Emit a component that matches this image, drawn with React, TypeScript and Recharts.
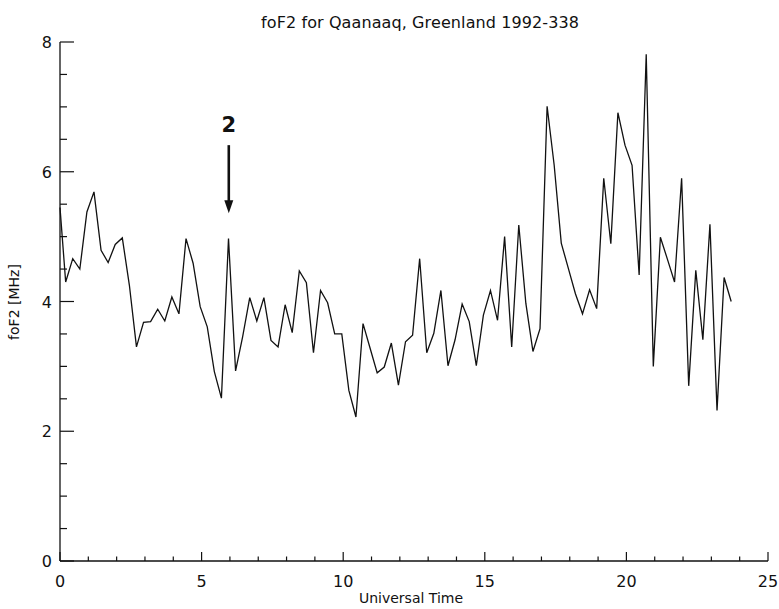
import React from 'react';
import { LineChart, Line, XAxis, YAxis, ReferenceLine, ReferenceDot } from 'recharts';

// Universal Time (hours) of each sounding
const universalTime = [
  0, 0.2, 0.45, 0.7, 0.95, 1.2, 1.45, 1.7, 1.95, 2.2, 2.45, 2.7, 2.95, 3.2, 3.45, 3.7,
  3.95, 4.2, 4.45, 4.7, 4.95, 5.2, 5.45, 5.7, 5.95, 6.2, 6.45, 6.7, 6.95, 7.2, 7.45, 7.7,
  7.95, 8.2, 8.45, 8.7, 8.95, 9.2, 9.45, 9.7, 9.95, 10.2, 10.45, 10.7, 10.95, 11.2, 11.45, 11.7,
  11.95, 12.2, 12.45, 12.7, 12.95, 13.2, 13.45, 13.7, 13.95, 14.2, 14.45, 14.7, 14.95, 15.2, 15.45, 15.7,
  15.95, 16.2, 16.45, 16.7, 16.95, 17.2, 17.45, 17.7, 17.95, 18.2, 18.45, 18.7, 18.95, 19.2, 19.45, 19.7,
  19.95, 20.2, 20.45, 20.7, 20.95, 21.2, 21.45, 21.7, 21.95, 22.2, 22.45, 22.7, 22.95, 23.2, 23.45, 23.7,
];

// foF2 in MHz
const foF2 = [
  5.45, 4.30, 4.66, 4.50, 5.38, 5.69, 4.79, 4.60, 4.88, 4.98, 4.25, 3.30, 3.68, 3.69, 3.88, 3.70,
  4.07, 3.81, 4.97, 4.59, 3.92, 3.61, 2.92, 2.51, 4.97, 2.93, 3.46, 4.06, 3.70, 4.06, 3.40, 3.30,
  3.95, 3.52, 4.47, 4.29, 3.21, 4.17, 3.98, 3.50, 3.50, 2.63, 2.22, 3.66, 3.28, 2.90, 2.99, 3.36,
  2.71, 3.38, 3.48, 4.66, 3.21, 3.51, 4.17, 3.01, 3.41, 3.96, 3.69, 3.01, 3.79, 4.17, 3.71, 5.00,
  3.30, 5.18, 3.97, 3.23, 3.58, 7.01, 6.10, 4.90, 4.51, 4.12, 3.81, 4.18, 3.89, 5.90, 4.89, 6.91,
  6.41, 6.10, 4.41, 7.81, 3.00, 4.99, 4.65, 4.30, 5.90, 2.70, 4.48, 3.41, 5.19, 2.32, 4.37, 4.00,
];

const hourTicks = [0, 1, 2, 3, 4, 5, 6, 7, 8, 9, 10, 11, 12, 13, 14, 15, 16, 17, 18, 19, 20, 21, 22, 23, 24, 25];
const hourLabels = [0, 5, 10, 15, 20, 25];
const mhzTicks = [0, 0.5, 1, 1.5, 2, 2.5, 3, 3.5, 4, 4.5, 5, 5.5, 6, 6.5, 7, 7.5, 8];
const mhzLabels = [0, 2, 4, 6, 8];

// event marker "2"
const markTime = 5.96;
const markLabel = '2';
const arrowFrom = 6.41;
const arrowTo = 5.36;
const markLabelAt = 6.61;

const data = universalTime.map((t, i) => ({ ut: t, fo: foF2[i] }));

const FONT = 'DejaVu Sans, sans-serif';
const INK = '#111';

const BottomTick = (props: any) => {
  const { x, y, payload } = props;
  const major = hourLabels.includes(payload.value);
  return (
    <g>
      <line x1={x} x2={x} y1={y} y2={y - (major ? 9 : 4.5)} stroke={INK} strokeWidth={1.2} />
      {major && (
        <text x={x} y={y + 26} textAnchor="middle" fontSize={16} fontFamily={FONT} fill={INK}>
          {payload.value}
        </text>
      )}
    </g>
  );
};

const TopTick = (props: any) => {
  const { x, y, payload } = props;
  const major = hourLabels.includes(payload.value);
  return <line x1={x} x2={x} y1={y} y2={y + (major ? 11 : 5)} stroke={INK} strokeWidth={1.2} />;
};

const LeftTick = (props: any) => {
  const { x, y, payload } = props;
  const major = mhzLabels.includes(payload.value);
  return (
    <g>
      <line x1={x} x2={x + (major ? 14 : 7)} y1={y} y2={y} stroke={INK} strokeWidth={1.2} />
      {major && (
        <text x={x - 8} y={y + 6} textAnchor="end" fontSize={16} fontFamily={FONT} fill={INK}>
          {payload.value}
        </text>
      )}
    </g>
  );
};

const RightTick = (props: any) => {
  const { x, y, payload } = props;
  const major = mhzLabels.includes(payload.value);
  return <line x1={x - (major ? 14 : 7)} x2={x} y1={y} y2={y} stroke={INK} strokeWidth={1.2} />;
};

const Arrow = (props: any) => {
  const { x1, y1, x2, y2 } = props;
  return (
    <g>
      <line x1={x1} x2={x2} y1={y1} y2={y2 - 10} stroke={INK} strokeWidth={2.6} />
      <polygon points={`${x2 - 4.5},${y2 - 13} ${x2 + 4.5},${y2 - 13} ${x2},${y2}`} fill={INK} />
    </g>
  );
};

const MarkText = (props: any) => (
  <text x={props.cx} y={props.cy} textAnchor="middle" fontSize={21} fontWeight="bold" fontFamily={FONT} fill={INK}>
    {markLabel}
  </text>
);

const axisLine = { stroke: INK, strokeWidth: 1.3 };

export default function App() {
  return (
    <div style={{ position: 'absolute', left: 0, top: 0, width: 779, height: 609, background: '#fff' }}>
      <LineChart width={779} height={609} data={data} margin={{ top: 42, right: 11, bottom: 18, left: 20 }}>
        <XAxis
          dataKey="ut"
          type="number"
          domain={[0, 25]}
          ticks={hourTicks}
          interval={0}
          tickSize={0}
          tickMargin={0}
          height={30}
          axisLine={axisLine}
          tickLine={false}
          tick={<BottomTick />}
        />
        <XAxis
          xAxisId="top"
          orientation="top"
          type="number"
          domain={[0, 25]}
          ticks={hourTicks}
          interval={0}
          tickSize={0}
          tickMargin={0}
          height={0}
          axisLine={axisLine}
          tickLine={false}
          tick={<TopTick />}
        />
        <YAxis
          type="number"
          domain={[0, 8]}
          ticks={mhzTicks}
          interval={0}
          tickSize={0}
          tickMargin={0}
          width={40}
          axisLine={axisLine}
          tickLine={false}
          tick={<LeftTick />}
        />
        <YAxis
          yAxisId="right"
          orientation="right"
          type="number"
          domain={[0, 8]}
          ticks={mhzTicks}
          interval={0}
          tickSize={0}
          tickMargin={0}
          width={0}
          axisLine={axisLine}
          tickLine={false}
          tick={<RightTick />}
        />
        <Line
          type="linear"
          dataKey="fo"
          stroke={INK}
          strokeWidth={1.3}
          dot={false}
          isAnimationActive={false}
        />
        <ReferenceLine
          segment={[{ x: markTime, y: arrowFrom }, { x: markTime, y: arrowTo }]}
          shape={<Arrow />}
        />
        <ReferenceDot x={markTime} y={markLabelAt} r={1} shape={<MarkText />} />
      </LineChart>
      <svg width={779} height={609} style={{ position: 'absolute', left: 0, top: 0, pointerEvents: 'none' }}>
        <text x={420} y={28} textAnchor="middle" fontSize={16} fontFamily={FONT} fill={INK} textLength={318} lengthAdjust="spacing">
          foF2 for Qaanaaq, Greenland  1992-338
        </text>
        <text x={0} y={0} transform="translate(19 302) rotate(-90)" textAnchor="middle" fontSize={14} fontFamily={FONT} fill={INK}>
          foF2 [MHz]
        </text>
        <text x={411} y={603} textAnchor="middle" fontSize={14} fontFamily={FONT} fill={INK}>
          Universal Time
        </text>
      </svg>
    </div>
  );
}
